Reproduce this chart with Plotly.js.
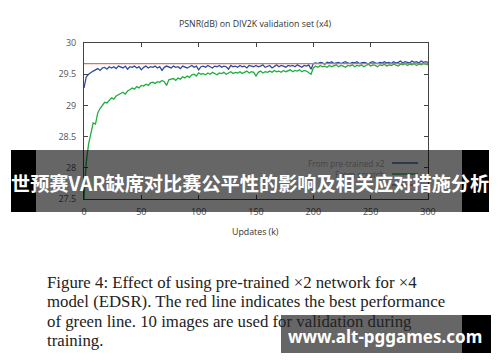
<!DOCTYPE html>
<html>
<head>
<meta charset="utf-8">
<script src="https://cdn.plot.ly/plotly-3.0.1.min.js"></script>
<style>
html,body{margin:0;padding:0;background:#fff;}
#chart{width:500px;height:362px;}
</style>
</head>
<body>
<div id="chart"></div>
<script>
// ---- data (x step: 2k updates) ----
const xStep = 2;
const pretrainedX2 = [
29.28,29.46,29.50,29.53,29.55,29.57,29.59,29.56,29.60,29.61,29.58,29.62,29.60,29.62,29.59,29.63,
29.61,29.60,29.63,29.58,29.62,29.61,29.63,29.60,29.62,29.57,29.61,29.63,29.60,29.62,29.61,
29.63,29.60,29.62,29.56,29.61,29.63,29.62,29.60,29.63,29.61,29.62,29.59,29.63,29.62,29.60,
29.62,29.64,29.61,29.63,29.57,29.62,29.63,29.61,29.64,29.62,29.60,29.63,29.62,29.64,29.61,
29.63,29.62,29.58,29.64,29.62,29.63,29.61,29.64,29.62,29.63,29.60,29.64,29.63,29.62,29.64,
29.62,29.63,29.65,29.61,29.63,29.64,29.60,29.63,29.65,29.62,29.64,29.63,29.61,29.64,29.63,
29.64,29.62,29.65,29.63,29.61,29.64,29.63,29.65,29.58,29.67,
29.68,29.67,29.69,29.68,29.66,29.69,29.68,29.70,29.67,29.68,29.69,29.67,29.68,29.70,29.68,
29.67,29.69,29.68,29.70,29.67,29.68,29.69,29.68,29.66,29.69,29.70,29.68,29.67,29.69,29.68,
29.70,29.68,29.69,29.67,29.70,29.68,29.69,29.71,29.68,29.70,29.69,29.68,29.71,29.69,29.70,
29.68,29.71,29.69,29.70,29.69
];
const fromScratch = [
27.50,28.10,28.38,28.55,28.72,28.70,28.88,28.95,29.00,29.05,29.04,29.09,29.12,29.10,29.15,29.17,
29.19,29.21,29.18,29.23,29.25,29.28,29.26,29.30,29.28,29.32,29.31,29.34,29.32,29.36,29.37,
29.35,29.38,29.37,29.40,29.38,29.32,29.41,29.42,29.43,29.40,29.44,29.42,29.46,29.44,29.47,
29.45,29.49,29.50,29.47,29.52,29.50,29.51,29.49,29.52,29.50,29.53,29.51,29.49,29.52,29.51,
29.53,29.50,29.52,29.54,29.51,29.53,29.52,29.54,29.51,29.53,29.55,29.52,29.54,29.53,29.47,
29.53,29.55,29.52,29.54,29.53,29.55,29.53,29.56,29.54,29.55,29.53,29.56,29.54,29.55,29.57,
29.54,29.56,29.55,29.57,29.54,29.56,29.55,29.53,29.50,29.60,
29.63,29.61,29.64,29.62,29.63,29.61,29.64,29.62,29.63,29.65,29.62,29.64,29.63,29.61,29.64,
29.63,29.65,29.62,29.64,29.63,29.65,29.62,29.64,29.66,29.63,29.65,29.64,29.62,29.65,29.64,
29.66,29.63,29.65,29.64,29.66,29.65,29.63,29.66,29.65,29.67,29.64,29.66,29.65,29.67,29.64,
29.66,29.65,29.67,29.66,29.65
];
const bestScratch = 29.67;
const xRange = [0, 300];
const yRange = [27.5, 30];
const xTicks = [0, 50, 100, 150, 200, 250, 300];
const yTicks = [27.5, 28, 28.5, 29, 29.5, 30];
const legendLabels = ["From pre-trained x2", "From scratch"];
const chartTitle = "PSNR(dB) on DIV2K validation set (x4)";
const xTitle = "Updates (k)";
const bannerText = "世预赛VAR缺席对比赛公平性的影响及相关应对措施分析";
const watermark = "www.alt-pggames.com";
const captionLines = [
  "Figure 4: Effect of using pre-trained ×2 network for ×4",
  "model (EDSR). The red line indicates the best performance",
  "of green line. 10 images are used for validation during",
  "training."
];

// ---- build ----
const W = 500, H = 362;
const px = v => v / W;
const py = v => 1 - v / H;
const xs = pretrainedX2.map((_, i) => i * xStep);

const cBlue = "#2d4a9e", cGreen = "#1fae3c", cRed = "#e0705e";
const traces = [
  {x: xs, y: pretrainedX2, type: "scatter", mode: "lines", line: {color: cBlue, width: 1.3}, hoverinfo: "skip"},
  {x: xs, y: fromScratch, type: "scatter", mode: "lines", line: {color: cGreen, width: 1.3}, hoverinfo: "skip"},
  {x: xRange, y: [bestScratch, bestScratch], type: "scatter", mode: "lines", line: {color: cRed, width: 1.3}, hoverinfo: "skip"}
];

const tickFont = {family: "Open Sans", size: 9, color: "#555"};
const axisCommon = {
  showgrid: false, zeroline: false, showline: true, linecolor: "#444", linewidth: 1,
  mirror: "ticks", ticks: "inside", ticklen: 4, tickcolor: "#444", tickwidth: 1,
  tickfont: tickFont, fixedrange: true
};

const legColors = [cBlue, cGreen, cRed];
const legY = [163, 174, 185];
const annotations = [
  {text: chartTitle, x: px(255), y: py(24), xref: "paper", yref: "paper", xanchor: "center", yanchor: "middle",
   showarrow: false, font: {family: "Open Sans", size: 8.8, color: "#333"}},
  {text: xTitle, x: px(255), y: py(232), xref: "paper", yref: "paper", xanchor: "center", yanchor: "middle",
   showarrow: false, font: {family: "Open Sans", size: 8.8, color: "#333"}}
];
const shapes = [];
legendLabels.forEach((t, i) => {
  annotations.push({text: t, x: px(387), y: py(legY[i]), xref: "paper", yref: "paper", xanchor: "right", yanchor: "middle",
    showarrow: false, font: {family: "Open Sans", size: 8.2, color: "#444"}});
});
legColors.forEach((c, i) => {
  shapes.push({type: "line", xref: "paper", yref: "paper", x0: px(392), x1: px(418), y0: py(legY[i]), y1: py(legY[i]),
    line: {color: c, width: 1.3}});
});
captionLines.forEach((t, i) => {
  annotations.push({text: t, x: px(45), y: py(282 + i * 19.5), xref: "paper", yref: "paper", xanchor: "left", yanchor: "middle",
    showarrow: false, font: {family: "Liberation Serif", size: 16.8, color: "#222"}});
});
// banner overlay
const rect = (x0, x1, y0, y1, fill) => ({type: "rect", xref: "paper", yref: "paper", layer: "above",
  x0: px(x0), x1: px(x1), y0: py(y1), y1: py(y0), line: {width: 0}, fillcolor: fill});
shapes.push(rect(11, 36, 150, 212, "#000"));
shapes.push(rect(36, 462, 150, 212, "rgba(0,0,0,0.6)"));
shapes.push(rect(462, 489, 150, 212, "#000"));
shapes.push(rect(281, 462, 315, 353, "rgba(0,0,0,0.6)"));
shapes.push(rect(462, 491, 315, 353, "#000"));
annotations.push({text: "<b>" + bannerText + "</b>", x: px(250), y: py(183), xref: "paper", yref: "paper",
  xanchor: "center", yanchor: "middle", showarrow: false,
  font: {family: "Noto Sans CJK SC", size: 19.2, color: "#fff"}});
annotations.push({text: "<b>" + watermark + "</b>", x: px(385), y: py(336), xref: "paper", yref: "paper",
  xanchor: "center", yanchor: "middle", showarrow: false,
  font: {family: "Noto Sans", size: 17, color: "#fff"}});

const layout = {
  width: W, height: H,
  margin: {l: 0, r: 0, t: 0, b: 0},
  paper_bgcolor: "#fff", plot_bgcolor: "#fff",
  showlegend: false,
  xaxis: Object.assign({}, axisCommon, {domain: [px(84), px(428)], range: xRange, tickvals: xTicks, ticklabelstandoff: 4}),
  yaxis: Object.assign({}, axisCommon, {domain: [py(199), py(43)], range: yRange, tickvals: yTicks, ticklabelstandoff: 5}),
  annotations: annotations,
  shapes: shapes
};
Plotly.newPlot("chart", traces, layout, {staticPlot: true, displayModeBar: false});
</script>
</body>
</html>
